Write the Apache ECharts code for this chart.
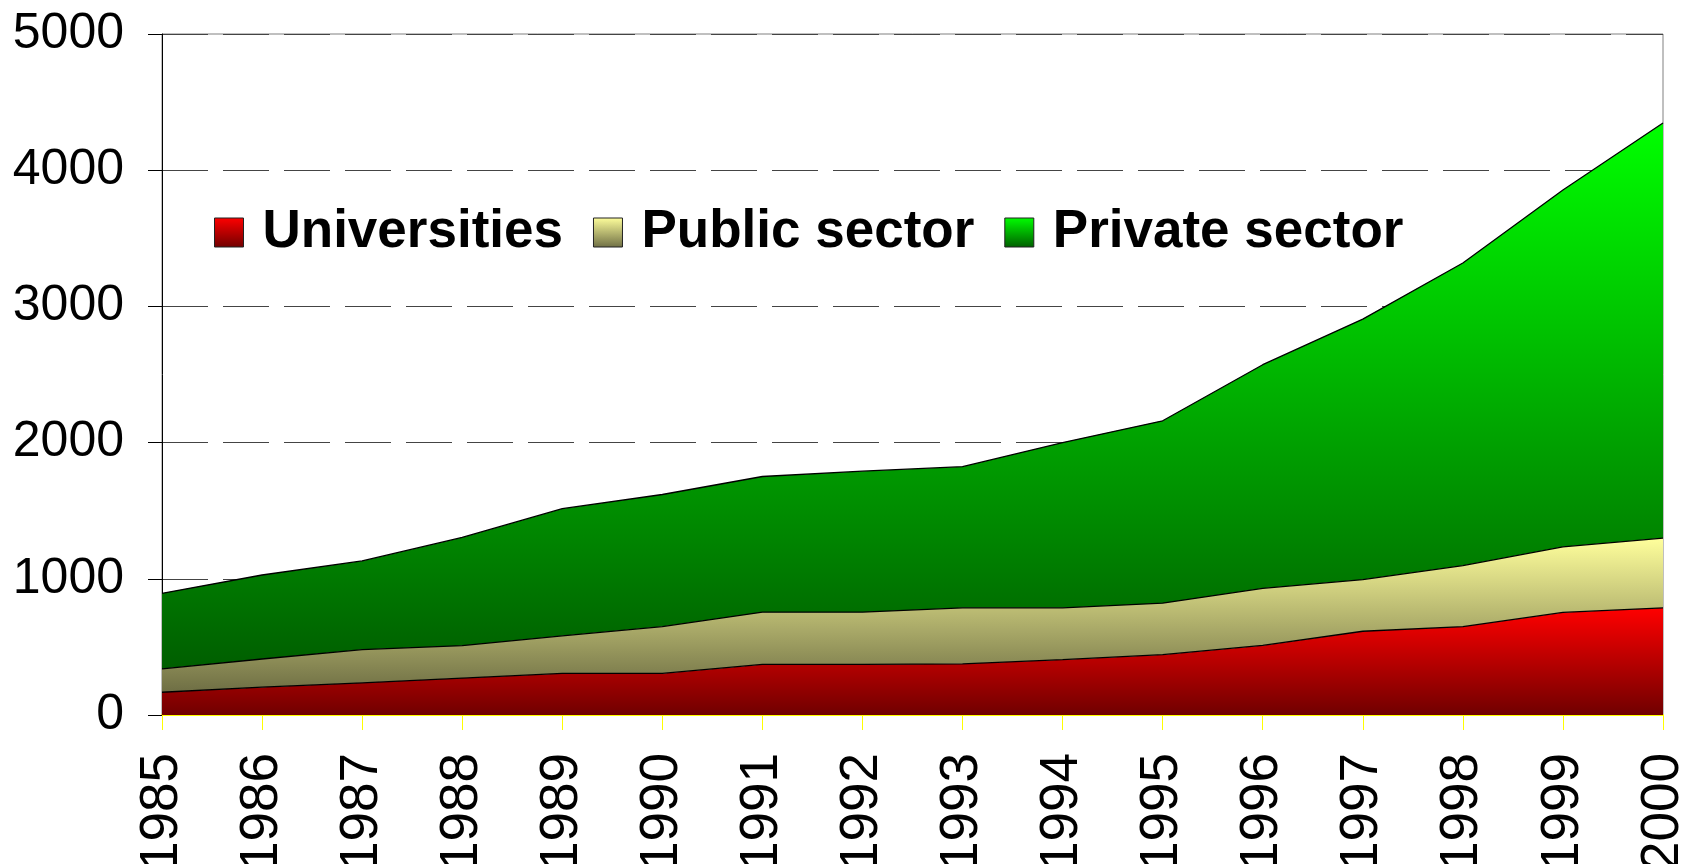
<!DOCTYPE html>
<html>
<head>
<meta charset="utf-8">
<script src="https://cdn.jsdelivr.net/npm/echarts@6/dist/echarts.min.js"></script>
<style>
  html, body { margin: 0; padding: 0; background: #fff; }
  #main { width: 1683px; height: 864px; }
</style>
</head>
<body>
<div id="main"></div>
<script>
// years on the x axis
var years = ['1985', '1986', '1987', '1988', '1989', '1990', '1991', '1992',
             '1993', '1994', '1995', '1996', '1997', '1998', '1999', '2000'];

// stacked values
var universities = [167, 204, 236, 271, 305, 305, 371, 371, 376, 406, 443, 511, 615, 649, 753, 787];
var publicSector = [172, 207, 244, 238, 276, 344, 384, 384, 411, 381, 378, 419, 379, 448, 482, 512];
var privateSector = [554, 617, 651, 795, 934, 970, 996, 1035, 1036, 1213, 1339, 1642, 1913, 2222, 2620, 3048];

var yTicks = [0, 1000, 2000, 3000, 4000, 5000];

function grad(top, bottom) {
    return new echarts.graphic.LinearGradient(0, 0, 0, 1, [
        { offset: 0, color: top },
        { offset: 1, color: bottom }
    ]);
}

var redFill = grad('#ff0000', '#700000');
var yellowFill = grad('#ffff9c', '#6e6e44');
var greenFill = grad('#00ff00', '#005e00');

var chart = echarts.init(document.getElementById('main'));

var option = {
    backgroundColor: '#ffffff',
    animation: false,
    textStyle: { fontFamily: 'Liberation Sans, Arial, sans-serif' },
    legend: {
        left: 209,
        top: 201,
        itemWidth: 29,
        itemHeight: 29,
        itemGap: 30,
        icon: 'rect',
        textStyle: {
            fontSize: 53,
            fontWeight: 'bold',
            color: '#000',
            fontFamily: 'Liberation Sans, Arial, sans-serif',
            padding: [0, 0, 0, 14]
        },
        data: [
            { name: 'Universities', itemStyle: { color: redFill, borderColor: '#222', borderWidth: 1 } },
            { name: 'Public sector', itemStyle: { color: yellowFill, borderColor: '#222', borderWidth: 1 } },
            { name: 'Private sector', itemStyle: { color: greenFill, borderColor: '#222', borderWidth: 1 } }
        ]
    },
    grid: {
        left: 162,
        right: 20,
        top: 34,
        bottom: 149,
        show: true,
        borderColor: '#808080',
        borderWidth: 1,
        outerBoundsMode: 'none'
    },
    xAxis: {
        type: 'category',
        data: years,
        boundaryGap: false,
        axisLine: { lineStyle: { color: '#ffff00', width: 2 } },
        axisTick: { show: true, interval: 0, length: 15, lineStyle: { color: '#ffff00', width: 1 } },
        axisLabel: {
            interval: 0,
            rotate: 90,
            margin: 38,
            fontSize: 53,
            color: '#000',
            fontFamily: 'Liberation Sans, Arial, sans-serif'
        },
        splitLine: { show: false }
    },
    yAxis: {
        type: 'value',
        min: yTicks[0],
        max: yTicks[yTicks.length - 1],
        interval: 1000,
        axisLine: { show: true, lineStyle: { color: '#000', width: 1 } },
        axisTick: { show: true, length: 14, lineStyle: { color: '#000', width: 1 } },
        axisLabel: {
            margin: 38,
            fontSize: 50,
            color: '#000',
            fontFamily: 'Liberation Sans, Arial, sans-serif',
            formatter: function (v) { return String(v); }
        },
        splitLine: {
            show: true,
            lineStyle: { color: '#444', width: 1, type: [46, 15] }
        }
    },
    series: [
        {
            name: 'Universities',
            type: 'line',
            stack: 'total',
            symbol: 'none',
            data: universities,
            lineStyle: { color: '#000', width: 1.3 },
            itemStyle: { color: redFill },
            areaStyle: { color: redFill, opacity: 1 }
        },
        {
            name: 'Public sector',
            type: 'line',
            stack: 'total',
            symbol: 'none',
            data: publicSector,
            lineStyle: { color: '#000', width: 1.3 },
            itemStyle: { color: yellowFill },
            areaStyle: { color: yellowFill, opacity: 1 }
        },
        {
            name: 'Private sector',
            type: 'line',
            stack: 'total',
            symbol: 'none',
            data: privateSector,
            lineStyle: { color: '#000', width: 1.3 },
            itemStyle: { color: greenFill },
            areaStyle: { color: greenFill, opacity: 1 }
        }
    ]
};

chart.setOption(option);
</script>
</body>
</html>
